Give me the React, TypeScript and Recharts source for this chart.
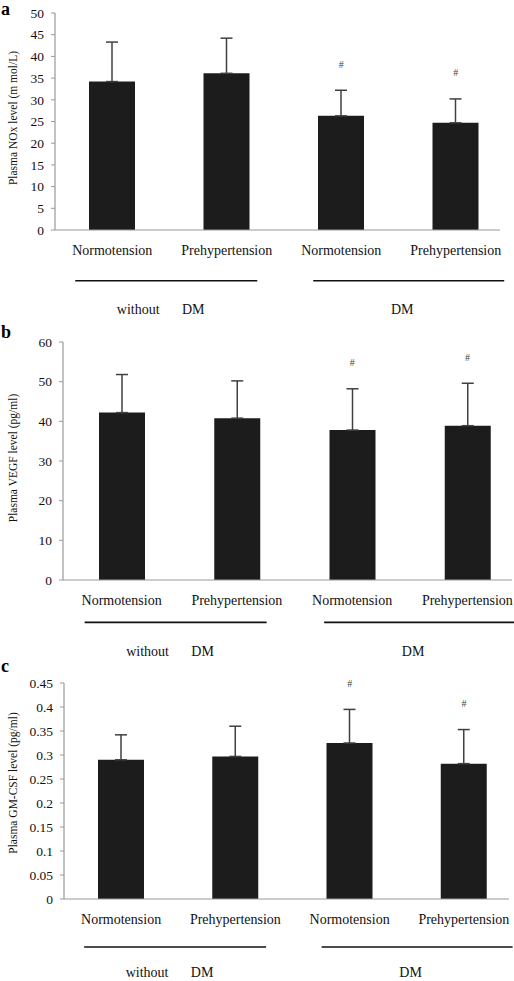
import React from 'react';
import { ComposedChart, Bar, ErrorBar, Line, XAxis, YAxis } from 'recharts';

const GROUPS = ['Normotension', 'Prehypertension', 'Normotension', 'Prehypertension'];
const MARKED = [false, false, true, true];

const NOX_MEAN = [34.2, 36.1, 26.3, 24.7];
const NOX_SD = [9.1, 8.1, 5.9, 5.5];
const NOX_TICKS = [0, 5, 10, 15, 20, 25, 30, 35, 40, 45, 50];

const VEGF_MEAN = [42.2, 40.8, 37.8, 38.9];
const VEGF_SD = [9.6, 9.4, 10.4, 10.7];
const VEGF_TICKS = [0, 10, 20, 30, 40, 50, 60];

const GMCSF_MEAN = [0.29, 0.297, 0.325, 0.282];
const GMCSF_SD = [0.052, 0.063, 0.07, 0.071];
const GMCSF_TICKS = [0, 0.05, 0.1, 0.15, 0.2, 0.25, 0.3, 0.35, 0.4, 0.45];

const FONT = '"Liberation Serif", "Times New Roman", serif';

const buildRows = (means: number[], sds: number[]) =>
  GROUPS.map((name, i) => ({
    name,
    mean: means[i],
    err: [0, sds[i]],
    markTop: MARKED[i] ? means[i] + sds[i] : null,
  }));

const CategoryTick = (props: any) => {
  const { x, y, payload, index, lineDy, textDy } = props;
  const txt = { fontFamily: FONT, fontSize: 14, fill: '#111' };
  return (
    <g>
      <text x={x} y={y + 20} dy="0.35em" textAnchor="middle" {...txt}>
        {payload.value}
      </text>
      {index === 0 && (
        <g>
          <line x1={x - 37} x2={x + 145} y1={y + lineDy} y2={y + lineDy} stroke="#111" strokeWidth={1.6} />
          <text x={x + 26} y={y + textDy} dy="0.35em" textAnchor="middle" {...txt}>without</text>
          <text x={x + 81} y={y + textDy} dy="0.35em" textAnchor="middle" {...txt}>DM</text>
        </g>
      )}
      {index === 2 && (
        <g>
          <line x1={x - 28} x2={x + 163} y1={y + lineDy} y2={y + lineDy} stroke="#111" strokeWidth={1.6} />
          <text x={x + 61} y={y + textDy} dy="0.35em" textAnchor="middle" {...txt}>DM</text>
        </g>
      )}
    </g>
  );
};

const HashDot = (props: any) => {
  const { cx, cy, value, index } = props;
  if (value == null || cy == null) return <g key={index} />;
  return (
    <text key={index} x={cx} y={cy - 26} dy="0.35em" textAnchor="middle" fontFamily={FONT} fontSize={10} fill="#444">
      #
    </text>
  );
};

type PanelProps = {
  top: number;
  height: number;
  letter: string;
  letterTop: number;
  yLabel: string;
  labelY: number;
  means: number[];
  sds: number[];
  ticks: number[];
  margin: { top: number; right: number; left: number; bottom: number };
  axisWidth: number;
  xHeight: number;
  pad: { left: number; right: number };
  tickFont: number;
  lineDy: number;
  textDy: number;
};

const Panel = (p: PanelProps) => {
  const rows = buildRows(p.means, p.sds);
  return (
    <>
      <div
        style={{
          position: 'absolute',
          left: 1,
          top: p.letterTop,
          fontFamily: FONT,
          fontWeight: 'bold',
          fontSize: 18,
          lineHeight: '18px',
        }}
      >
        {p.letter}
      </div>
      <div
        style={{
          position: 'absolute',
          left: 13,
          top: p.labelY,
          transform: 'translate(-50%, -50%) rotate(-90deg)',
          whiteSpace: 'nowrap',
          fontFamily: FONT,
          fontSize: 11.5,
          color: '#111',
        }}
      >
        {p.yLabel}
      </div>
      <div style={{ position: 'absolute', left: 0, top: p.top }}>
        <ComposedChart width={514} height={p.height} data={rows} margin={p.margin}>
          <XAxis
            dataKey="name"
            interval={0}
            height={p.xHeight}
            padding={p.pad}
            tickLine={false}
            tickSize={0}
            tickMargin={0}
            axisLine={{ stroke: '#999', strokeWidth: 1.2 }}
            tick={(t: any) => <CategoryTick {...t} lineDy={p.lineDy} textDy={p.textDy} />}
          />
          <YAxis
            width={p.axisWidth}
            domain={[p.ticks[0], p.ticks[p.ticks.length - 1]]}
            ticks={p.ticks}
            interval={0}
            tickSize={4}
            tickMargin={7}
            axisLine={{ stroke: '#999', strokeWidth: 1.2 }}
            tickLine={{ stroke: '#999' }}
            tick={{ fill: '#111', fontSize: p.tickFont, fontFamily: FONT }}
          />
          <Bar dataKey="mean" fill="#1c1c1c" barSize={46} isAnimationActive={false}>
            <ErrorBar dataKey="err" direction="y" width={6} stroke="#404040" strokeWidth={1.5} isAnimationActive={false} />
          </Bar>
          <Line
            dataKey="markTop"
            stroke="none"
            connectNulls={false}
            activeDot={false}
            dot={(d: any) => <HashDot {...d} />}
            isAnimationActive={false}
          />
        </ComposedChart>
      </div>
    </>
  );
};

export default function App() {
  return (
    <div style={{ position: 'absolute', left: 0, top: 0, width: 514, height: 981, background: '#fff', overflow: 'hidden' }}>
      <Panel
        top={0}
        height={330}
        letter="a"
        letterTop={0}
        yLabel="Plasma NOx level (m mol/L)"
        labelY={118}
        means={NOX_MEAN}
        sds={NOX_SD}
        ticks={NOX_TICKS}
        margin={{ top: 13, right: 14, left: 0, bottom: 0 }}
        axisWidth={55}
        xHeight={100}
        pad={{ left: 0, right: -13 }}
        tickFont={13.5}
        lineDy={50.7}
        textDy={79}
      />
      <Panel
        top={325}
        height={335}
        letter="b"
        letterTop={323}
        yLabel="Plasma VEGF level (pg/ml)"
        labelY={458}
        means={VEGF_MEAN}
        sds={VEGF_SD}
        ticks={VEGF_TICKS}
        margin={{ top: 17, right: 2, left: 0, bottom: 0 }}
        axisWidth={63}
        xHeight={80}
        pad={{ left: 1, right: -13 }}
        tickFont={13.5}
        lineDy={42.4}
        textDy={71.4}
      />
      <Panel
        top={660}
        height={321}
        letter="c"
        letterTop={657}
        yLabel="Plasma GM-CSF level (pg/ml)"
        labelY={783}
        means={GMCSF_MEAN}
        sds={GMCSF_SD}
        ticks={GMCSF_TICKS}
        margin={{ top: 23, right: 5, left: 0, bottom: 0 }}
        axisWidth={64}
        xHeight={82}
        pad={{ left: 0, right: -12 }}
        tickFont={13.5}
        lineDy={48}
        textDy={73.5}
      />
    </div>
  );
}
